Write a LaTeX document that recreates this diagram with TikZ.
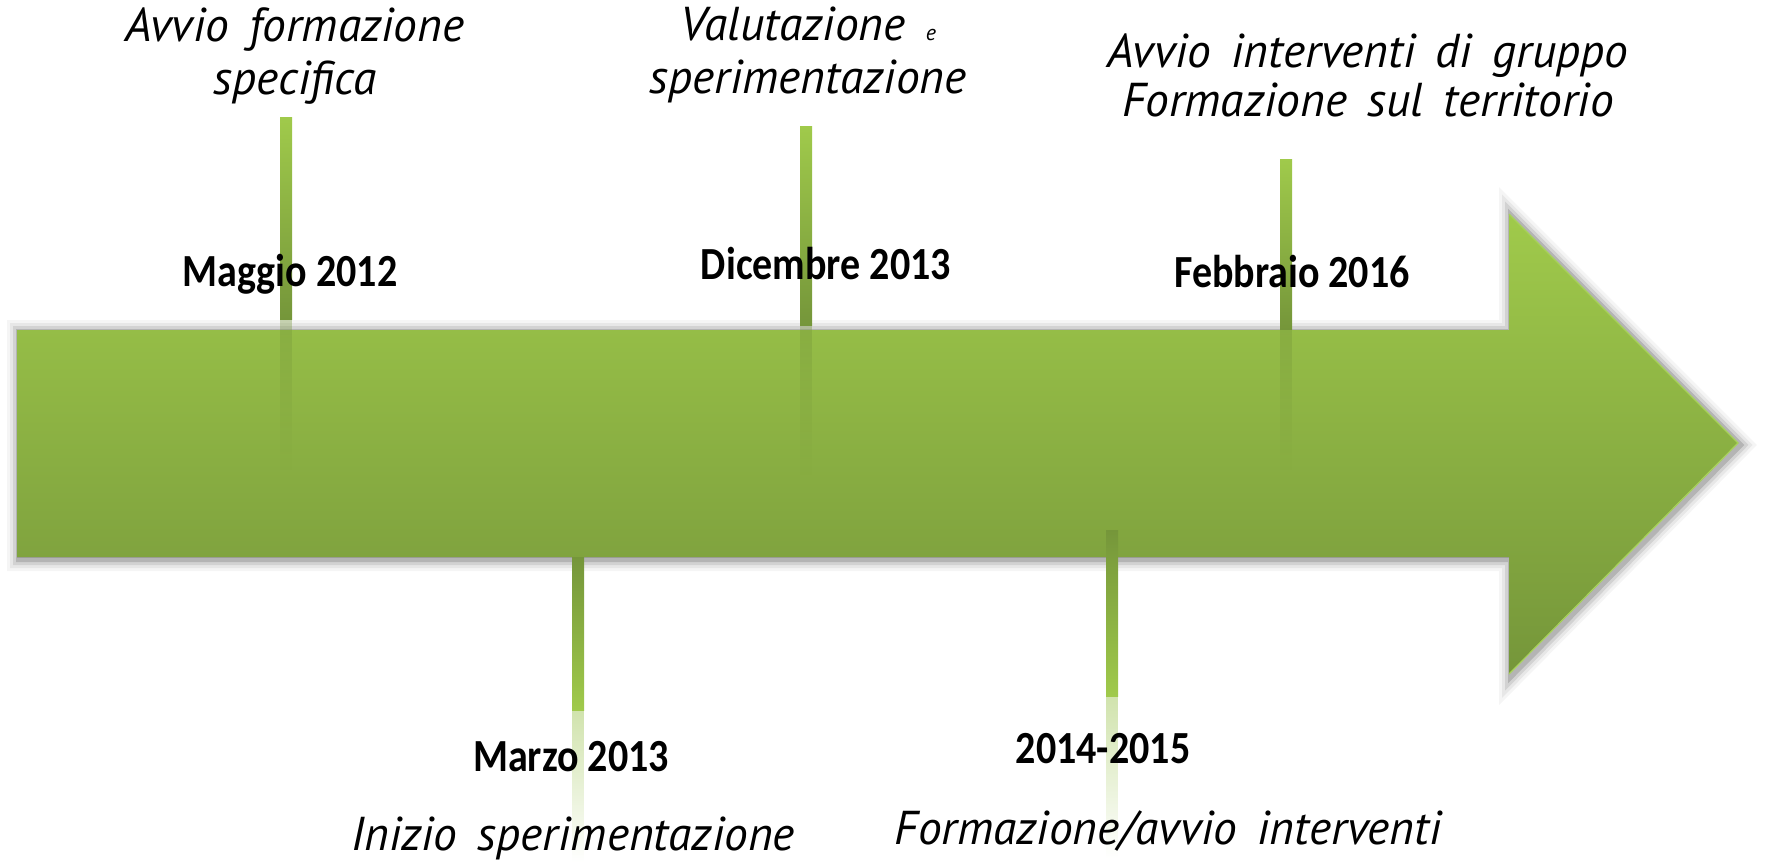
\documentclass[tikz,border=0pt]{standalone}
\usepackage{fontspec}
\newfontfamily\datefont{Carlito}[FakeStretch=0.87]
\newfontfamily\handfont{PT Sans}[WordSpace=1.6]
\usetikzlibrary{fadings}
\definecolor{gLight}{HTML}{A0CA4B}
\definecolor{gDark}{HTML}{75963A}
\definecolor{gEdge}{HTML}{A8D35A}
\definecolor{gPale}{HTML}{C8DE9E}
\tikzfading[name=fadedown, top color=transparent!15, bottom color=transparent!100]
\tikzset{
  uptick/.style={top color=gLight, bottom color=gDark},
  downtick/.style={top color=gDark, bottom color=gLight},
  datelbl/.style={font=\datefont\bfseries\fontsize{46}{50}\selectfont, inner sep=0pt},
  desclbl/.style={font=\handfont\itshape\fontsize{47.5}{53}\selectfont, align=center, inner sep=0pt},
}
\begin{document}
\begin{tikzpicture}[x=1pt,y=-1pt]
\useasboundingbox (0,0) rectangle (1766,862);
\def\arrowpath{(17,330) -- (1509,330) -- (1509,214) -- (1738,443) -- (1509,674) -- (1509,557) -- (17,557) -- cycle}
% soft shadow
\foreach \w/\o in {24/0.04,18/0.06,12/0.09,6/0.14}{
  \draw[line width=\w pt, black, draw opacity=\o, line join=miter, xshift=2pt, yshift=-2pt] \arrowpath;
}
% arrow
\fill[top color=gLight, bottom color=gDark] \arrowpath;
\draw[gEdge, line width=1.2pt] (1509,214) -- (1738,443) -- (1509,674);
% upper ticks with reflections
\fill[gDark, path fading=fadedown, fill opacity=0.45] (280,319) rectangle (292,470);
\fill[uptick] (280,117) rectangle (292,319);
\fill[gDark, path fading=fadedown, fill opacity=0.45] (800,325) rectangle (812,475);
\fill[uptick] (800,126) rectangle (812,325);
\fill[gDark, path fading=fadedown, fill opacity=0.45] (1280,329) rectangle (1292,470);
\fill[uptick] (1280,159) rectangle (1292,329);
% lower ticks with reflections
\fill[gPale, path fading=fadedown] (572,710) rectangle (584,862);
\fill[downtick] (572,557) rectangle (584,710);
\fill[gPale, path fading=fadedown] (1106,696) rectangle (1118,858);
\fill[downtick] (1106,530) rectangle (1118,696);
% date labels
\node[datelbl] (d1) at (290,274) {Maggio 2012};
\node[datelbl] (d2) at (826,264) {Dicembre 2013};
\node[datelbl] (d3) at (1292,272) {Febbraio 2016};
\node[datelbl] (d4) at (571,757) {Marzo 2013};
\node[datelbl] (d5) at (1103,749) {2014-2015};
% descriptions
\node[desclbl] (t1) at (295,56) {Avvio formazione\\specifica};
\node[desclbl] (t2) at (808,55) {Valutazione {\fontsize{22}{22}\selectfont e}\\sperimentazione};
\node[desclbl, font=\handfont\itshape\fontsize{47.5}{49}\selectfont] (t3) at (1368,75) {Avvio interventi di gruppo\\Formazione sul territorio};
\node[desclbl] (t4) at (573,838) {Inizio sperimentazione};
\node[desclbl] (t5) at (1168,831) {Formazione/avvio interventi};
\end{tikzpicture}
\end{document}
